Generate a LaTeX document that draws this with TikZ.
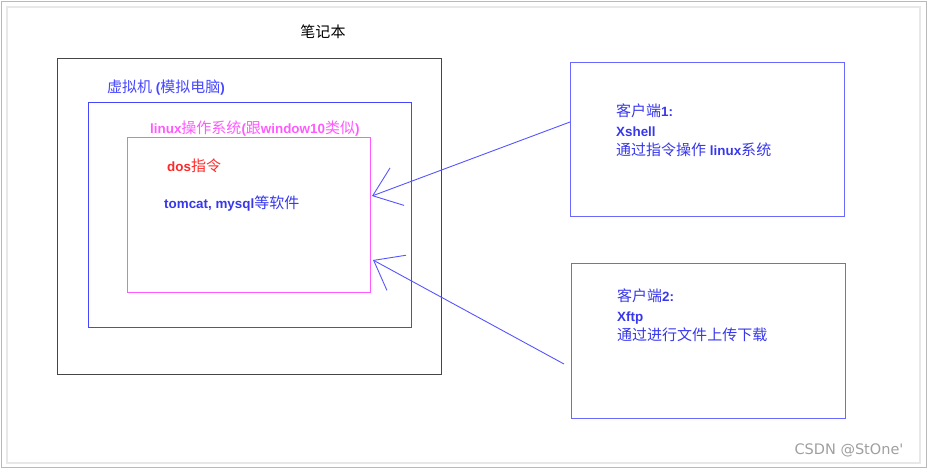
\documentclass[tikz,border=0pt]{standalone}
\usepackage{fontspec}
\setmainfont{Liberation Sans}
\newfontfamily\cjk{Noto Sans CJK SC}[Scale=1.12]
\newfontfamily\wm{DejaVu Sans}
\usetikzlibrary{arrows.meta}
\definecolor{laptopc}{RGB}{70,70,70}
\definecolor{vmblue}{RGB}{70,70,255}
\definecolor{linuxmag}{RGB}{255,90,255}
\definecolor{clientblue}{RGB}{105,105,255}
\definecolor{textblue}{RGB}{55,55,235}
\definecolor{dosred}{RGB}{255,40,40}
\definecolor{arrblue}{RGB}{85,85,255}
\tikzset{
  box/.style={draw, anchor=north west, inner sep=0pt, line width=1pt},
  lbl/.style={anchor=west, inner sep=0pt, font=\fontsize{13.4}{16}\selectfont\bfseries},
  ctext/.style={anchor=north west, inner sep=0pt, align=left, text=textblue,
     font=\fontsize{13.4}{19.5}\selectfont\bfseries},
  arr/.style={draw=arrblue, line width=0.9pt,
     -{Straight Barb[length=26pt,width=40pt,line width=0.9pt]}}
}
\begin{document}
\begin{tikzpicture}[x=1pt,y=-1pt]
\useasboundingbox (0,0) rectangle (929,469);
% frame
\draw[gray!55, line width=0.8pt] (1.5,1.5) rectangle (926.5,467.5);
\draw[gray!18, line width=2pt] (7,7) rectangle (920,463);
% boxes
\node[box, draw=laptopc, minimum width=384pt, minimum height=316pt] (laptop) at (57,58) {};
\node[box, draw=vmblue, minimum width=323pt, minimum height=225pt] (vm) at (88,102) {};
\node[box, draw=linuxmag, minimum width=243pt, minimum height=155pt] (linux) at (127,137) {};
\node[box, draw=clientblue, minimum width=274pt, minimum height=154pt] (c1) at (570,62) {};
\node[box, draw=clientblue, minimum width=274pt, minimum height=155pt] (c2) at (571,263) {};
% labels
\node[lbl, anchor=center, text=black] (tlaptop) at (323,32) {\cjk\mdseries 笔记本};
\node[lbl, text=vmblue] (tvm) at (107,88) {{\cjk\mdseries 虚拟机} ({\cjk\mdseries 模拟电脑})};
\node[lbl, text=linuxmag] (tlinux) at (150,129) {linux{\cjk\mdseries 操作系统}({\cjk\mdseries 跟}window10{\cjk\mdseries 类似})};
\node[lbl, text=dosred] (tdos) at (167,166) {dos{\cjk\mdseries 指令}};
\node[lbl, text=textblue] (ttom) at (164,204) {tomcat, mysql{\cjk\mdseries 等软件}};
\node[ctext] (tc1) at (616,104) {{\cjk\mdseries 客户端}1:\\Xshell\\{\cjk\mdseries 通过指令操作} linux{\cjk\mdseries 系统}};
\node[ctext] (tc2) at (617,289) {{\cjk\mdseries 客户端}2:\\Xftp\\{\cjk\mdseries 通过进行文件上传下载}};
\node[anchor=center, inner sep=0pt, text=gray!75, font=\wm\fontsize{14.5}{16}\selectfont] (wmk) at (849,450) {CSDN @StOne'};
% connectors
\coordinate (s1) at (570,122);
\coordinate (e1) at (372,196);
\coordinate (s2) at (564,364);
\coordinate (e2) at (373,260);
\draw[arr] (s1) -- (e1);
\draw[arr] (s2) -- (e2);
\end{tikzpicture}
\end{document}
